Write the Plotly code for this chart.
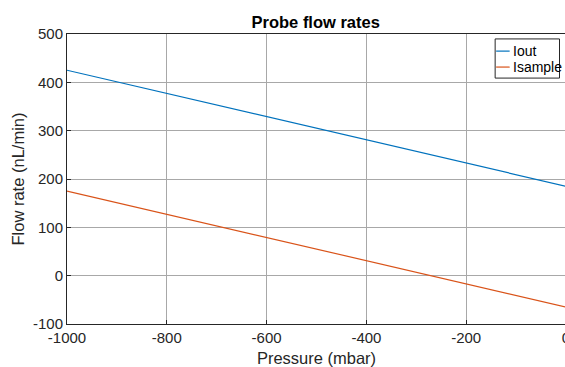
import plotly.graph_objects as go

pressure = [-1000, 0]
iout = [425, 185]
isample = [175, -65]
xticks = [-1000, -800, -600, -400, -200, 0]
xticklabels = ["-1000", "-800", "-600", "-400", "-200", "0"]
yticks = [-100, 0, 100, 200, 300, 400, 500]
yticklabels = ["-100", "0", "100", "200", "300", "400", "500"]
series_names = ["Iout", "Isample"]
colors = ["#0072BD", "#D95319"]

font = "Liberation Sans, Arial, sans-serif"
fig = go.Figure()
for name, vals, col in zip(series_names, [iout, isample], colors):
    fig.add_trace(go.Scatter(x=pressure, y=vals, mode="lines", name=name,
                             line=dict(color=col, width=1.2), showlegend=False))

axis_common = dict(showgrid=True, gridcolor="#a8a8a8", gridwidth=1,
                   showline=True, linecolor="#262626", linewidth=1, mirror=True,
                   ticks="inside", ticklen=4, tickcolor="#262626",
                   tickfont=dict(family=font, size=15, color="#262626"),
                   ticklabeloverflow="allow",
                   zeroline=False)
fig.update_xaxes(range=[-1000, 0], tickvals=xticks, ticktext=xticklabels,
                 title=dict(text="Pressure (mbar)", font=dict(family=font, size=16.5, color="#262626"), standoff=7),
                 **axis_common)
fig.update_yaxes(range=[-100, 500], tickvals=yticks, ticktext=yticklabels,
                 title=dict(text="Flow rate (nL/min)", font=dict(family=font, size=16.5, color="#262626"), standoff=4),
                 **axis_common)

# MATLAB-style legend box
lx0, lx1, ly0, ly1 = 0.858, 0.987, 0.848, 0.983
fig.add_shape(type="rect", xref="paper", yref="paper", x0=lx0, x1=lx1, y0=ly0, y1=ly1,
              line=dict(color="#262626", width=1), fillcolor="white", layer="above")
for name, col, yy in zip(series_names, colors, [0.941, 0.886]):
    fig.add_shape(type="line", xref="paper", yref="paper", x0=0.860, x1=0.887, y0=yy, y1=yy,
                  line=dict(color=col, width=1.2), layer="above")
    fig.add_annotation(xref="paper", yref="paper", x=0.889, y=yy, text=name, showarrow=False,
                       xanchor="left", yanchor="middle",
                       font=dict(family=font, size=14, color="black"))

fig.update_layout(
    width=570, height=367,
    margin=dict(l=67, r=0, t=34, b=43),
    paper_bgcolor="white", plot_bgcolor="white",
    title=dict(text="<b>Probe flow rates</b>", x=0.5539, xanchor="center", y=0.940, yanchor="middle",
               font=dict(family=font, size=16.5, color="black")),
    showlegend=False,
)
fig.write_html("out.html", config={"displayModeBar": False},
               post_script="document.body.style.margin='0';document.body.style.overflow='hidden';")
